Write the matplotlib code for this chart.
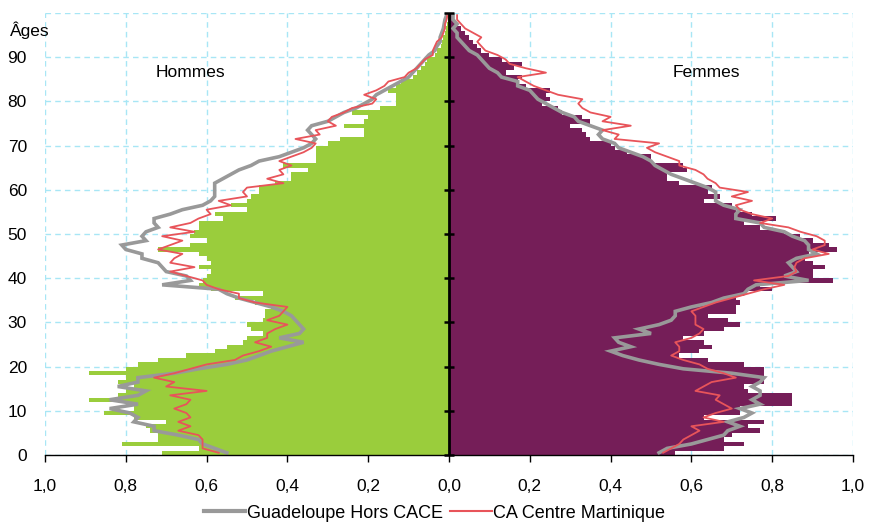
import matplotlib
matplotlib.use("Agg")
import matplotlib.pyplot as plt
from matplotlib.lines import Line2D
import numpy as np

plt.rcParams['font.family'] = ['Liberation Sans', 'DejaVu Sans']

ages = list(range(0, 100))

hommes = [0.71, 0.62, 0.81, 0.72, 0.72, 0.74, 0.75, 0.70, 0.78, 0.855,
          0.78, 0.80, 0.89, 0.82, 0.80, 0.78, 0.82, 0.80, 0.89, 0.80,
          0.77, 0.72, 0.65, 0.58, 0.55, 0.51, 0.50, 0.46, 0.49, 0.50,
          0.46, 0.455, 0.455, 0.44, 0.48, 0.53, 0.46, 0.59, 0.62, 0.61,
          0.60, 0.59, 0.62, 0.59, 0.60, 0.62, 0.72, 0.64, 0.60, 0.64,
          0.63, 0.62, 0.62, 0.56, 0.58, 0.50, 0.54, 0.50, 0.49, 0.47,
          0.47, 0.43, 0.39, 0.39, 0.35, 0.41, 0.33, 0.33, 0.33, 0.33,
          0.30, 0.27, 0.21, 0.21, 0.26, 0.21, 0.20, 0.24, 0.17, 0.13,
          0.13, 0.13, 0.15, 0.13, 0.12, 0.09, 0.08, 0.07, 0.06, 0.055,
          0.035, 0.03, 0.02, 0.018, 0.014, 0.01, 0.007, 0.006, 0.003, 0.002]

femmes = [0.56, 0.68, 0.73, 0.68, 0.70, 0.77, 0.74, 0.78, 0.63, 0.72,
          0.72, 0.85, 0.85, 0.85, 0.74, 0.73, 0.78, 0.78, 0.78, 0.78,
          0.73, 0.64, 0.57, 0.62, 0.65, 0.63, 0.58, 0.63, 0.68, 0.72,
          0.69, 0.64, 0.71, 0.71, 0.72, 0.71, 0.73, 0.80, 0.77, 0.95,
          0.90, 0.90, 0.93, 0.90, 0.88, 0.89, 0.96, 0.94, 0.90, 0.87,
          0.83, 0.77, 0.73, 0.81, 0.75, 0.71, 0.70, 0.63, 0.67, 0.64,
          0.65, 0.57, 0.54, 0.54, 0.59, 0.58, 0.50, 0.50, 0.44, 0.41,
          0.40, 0.35, 0.34, 0.33, 0.30, 0.35, 0.33, 0.28, 0.27, 0.23,
          0.25, 0.24, 0.25, 0.19, 0.17, 0.18, 0.14, 0.16, 0.18, 0.13,
          0.10, 0.08, 0.07, 0.06, 0.05, 0.04, 0.03, 0.02, 0.01, 0.01]

guad_h = [0.55, 0.58, 0.61, 0.62, 0.67, 0.73, 0.73, 0.78, 0.77, 0.79,
          0.84, 0.77, 0.84, 0.77, 0.75, 0.82, 0.77, 0.77, 0.68, 0.62,
          0.55, 0.50, 0.47, 0.44, 0.40, 0.36, 0.42, 0.37, 0.36, 0.37,
          0.38, 0.39, 0.41, 0.44, 0.48, 0.52, 0.55, 0.57, 0.71, 0.64,
          0.65, 0.70, 0.71, 0.72, 0.76, 0.76, 0.80, 0.81, 0.75, 0.76,
          0.75, 0.72, 0.73, 0.73, 0.69, 0.66, 0.61, 0.59, 0.58, 0.58,
          0.58, 0.58, 0.56, 0.54, 0.52, 0.49, 0.47, 0.42, 0.39, 0.36,
          0.34, 0.33, 0.34, 0.35, 0.34, 0.30, 0.28, 0.26, 0.23, 0.21,
          0.19, 0.18, 0.16, 0.14, 0.12, 0.10, 0.09, 0.08, 0.07, 0.06,
          0.05, 0.035, 0.03, 0.022, 0.022, 0.018, 0.014, 0.012, 0.01, 0.006]

mart_h = [0.57, 0.61, 0.61, 0.61, 0.62, 0.67, 0.64, 0.67, 0.64, 0.65,
          0.68, 0.65, 0.64, 0.69, 0.60, 0.70, 0.68, 0.73, 0.68, 0.64,
          0.60, 0.53, 0.51, 0.47, 0.44, 0.48, 0.45, 0.45, 0.43, 0.40,
          0.45, 0.42, 0.41, 0.40, 0.48, 0.52, 0.52, 0.57, 0.60, 0.61,
          0.65, 0.69, 0.63, 0.69, 0.68, 0.66, 0.72, 0.69, 0.66, 0.71,
          0.63, 0.69, 0.64, 0.62, 0.59, 0.60, 0.54, 0.57, 0.50, 0.51,
          0.50, 0.41, 0.45, 0.41, 0.42, 0.39, 0.42, 0.39, 0.36, 0.34,
          0.33, 0.38, 0.32, 0.33, 0.28, 0.30, 0.29, 0.26, 0.24, 0.19,
          0.18, 0.21, 0.18, 0.16, 0.15, 0.11, 0.10, 0.08, 0.07, 0.06,
          0.04, 0.04, 0.035, 0.03, 0.018, 0.014, 0.01, 0.01, 0.006, 0.004]

guad_f = [0.52, 0.54, 0.60, 0.64, 0.68, 0.69, 0.72, 0.69, 0.73, 0.75,
          0.72, 0.77, 0.75, 0.77, 0.77, 0.75, 0.77, 0.78, 0.70, 0.58,
          0.52, 0.47, 0.43, 0.40, 0.45, 0.42, 0.41, 0.50, 0.47, 0.52,
          0.55, 0.56, 0.56, 0.60, 0.65, 0.68, 0.73, 0.74, 0.76, 0.89,
          0.83, 0.86, 0.85, 0.84, 0.86, 0.91, 0.89, 0.89, 0.88, 0.85,
          0.83, 0.78, 0.77, 0.71, 0.71, 0.72, 0.68, 0.66, 0.66, 0.66,
          0.64, 0.61, 0.58, 0.55, 0.53, 0.51, 0.50, 0.48, 0.45, 0.42,
          0.41, 0.38, 0.37, 0.38, 0.35, 0.32, 0.31, 0.28, 0.26, 0.24,
          0.22, 0.21, 0.20, 0.17, 0.17, 0.13, 0.12, 0.10, 0.09, 0.08,
          0.07, 0.05, 0.04, 0.03, 0.02, 0.02, 0.01, 0.02, 0.01, 0.01]

mart_f = [0.53, 0.55, 0.57, 0.58, 0.60, 0.62, 0.60, 0.68, 0.63, 0.66,
          0.70, 0.68, 0.66, 0.67, 0.61, 0.63, 0.65, 0.71, 0.68, 0.64,
          0.62, 0.58, 0.55, 0.57, 0.57, 0.56, 0.60, 0.62, 0.63, 0.61,
          0.61, 0.61, 0.60, 0.63, 0.66, 0.70, 0.74, 0.78, 0.83, 0.755,
          0.84, 0.86, 0.855, 0.86, 0.88, 0.94, 0.90, 0.93, 0.93, 0.91,
          0.87, 0.84, 0.77, 0.80, 0.75, 0.72, 0.71, 0.75, 0.70, 0.74,
          0.67, 0.66, 0.64, 0.63, 0.61, 0.57, 0.57, 0.54, 0.51, 0.49,
          0.52, 0.41, 0.42, 0.38, 0.45, 0.38, 0.40, 0.35, 0.33, 0.32,
          0.33, 0.27, 0.24, 0.21, 0.19, 0.17, 0.24, 0.19, 0.15, 0.14,
          0.12, 0.09, 0.08, 0.07, 0.08, 0.06, 0.04, 0.03, 0.02, 0.02]

xticks = [-1.0, -0.8, -0.6, -0.4, -0.2, 0.0, 0.2, 0.4, 0.6, 0.8, 1.0]
xticklabels = ["1,0", "0,8", "0,6", "0,4", "0,2", "0,0", "0,2", "0,4", "0,6", "0,8", "1,0"]
yticks = list(range(0, 101, 10))
yticklabels = ["0", "10", "20", "30", "40", "50", "60", "70", "80", "90", ""]

GREEN = "#9ACD3C"
PURPLE = "#751E58"
GREY = "#999999"
RED = "#E8545A"
GRID = "#A8E6F5"

fig = plt.figure(figsize=(8.69, 5.24), dpi=100)
ax = fig.add_axes([45 / 869, 1 - 455 / 524, 808 / 869, 442 / 524])

a = np.array(ages)
ax.barh(a, -np.array(hommes), height=1.0, align='edge', color=GREEN, linewidth=0, zorder=2)
ax.barh(a, np.array(femmes), height=1.0, align='edge', color=PURPLE, linewidth=0, zorder=2)

yl = a + 0.5
ax.plot(-np.array(guad_h), yl, color=GREY, lw=2.6, zorder=3, solid_joinstyle='miter')
ax.plot(np.array(guad_f), yl, color=GREY, lw=2.6, zorder=3, solid_joinstyle='miter')
ax.plot(-np.array(mart_h), yl, color=RED, lw=1.3, zorder=4)
ax.plot(np.array(mart_f), yl, color=RED, lw=1.3, zorder=4)

ax.set_xlim(-1.0, 1.0)
ax.set_ylim(0, 100)
ax.set_xticks(xticks)
ax.set_xticklabels(xticklabels)
ax.set_yticks(yticks)
ax.set_yticklabels(yticklabels)

for s in ['left', 'right', 'top']:
    ax.spines[s].set_visible(False)
ax.spines['bottom'].set_color('black')
ax.spines['bottom'].set_linewidth(1.0)
ax.spines['bottom'].set_zorder(6)

ax.tick_params(axis='x', direction='out', length=5, width=1, pad=12, labelsize=12.5)
ax.tick_params(axis='y', length=0, pad=13, labelsize=12.5)

ax.grid(True, color=GRID, linestyle=(0, (4, 3)), linewidth=1.0, zorder=0)
ax.set_axisbelow(True)

# central vertical axis with ticks
ax.axvline(0, color='black', lw=2.0, zorder=5)
for yt in yticks:
    ax.plot([-0.013, 0.013], [yt, yt], color='black', lw=1.8, zorder=5,
            solid_capstyle='butt', clip_on=False)

ax.text(-0.64, 86.6, "Hommes", fontsize=12.5, ha='center', va='center')
ax.text(0.636, 86.6, "Femmes", fontsize=12.5, ha='center', va='center')
fig.text(10 / 869, 1 - 30 / 524, "Âges", fontsize=12.5, ha='left', va='center')

handles = [Line2D([], [], color=GREY, lw=3.0), Line2D([], [], color=RED, lw=1.5)]
fig.legend(handles, ["Guadeloupe Hors CACE", "CA Centre Martinique"], loc='center',
           bbox_to_anchor=(0.5, 1 - 513 / 524), ncol=2, frameon=False, fontsize=13,
           handlelength=2.3, handletextpad=0.1, columnspacing=0.4, borderpad=0)

fig.savefig("out.png", dpi=100)
